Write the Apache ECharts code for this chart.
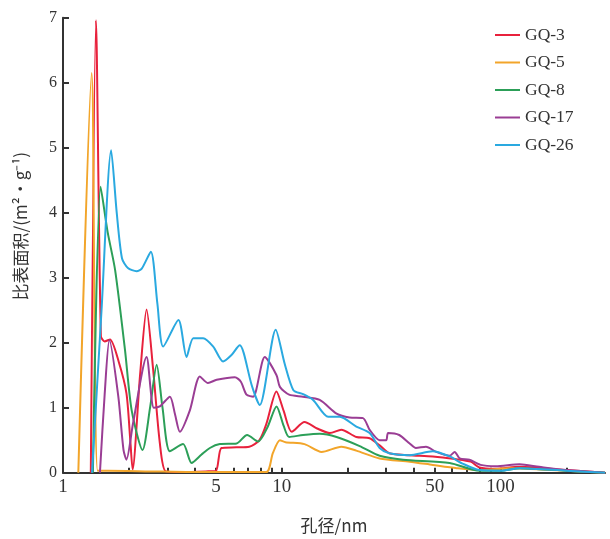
<!DOCTYPE html>
<html>
<head>
<meta charset="utf-8">
<script src="https://cdn.jsdelivr.net/npm/echarts@6/dist/echarts.min.js"></script>
<style>
  html, body { margin: 0; padding: 0; background: #fff; }
  #main { width: 610px; height: 539px; }
</style>
</head>
<body>
<div id="main"></div>
<script>
// 孔径 (nm) 与比表面积 (m²·g⁻¹)
const gq3Size = [1.34, 1.415, 1.49, 1.55, 1.64, 1.8, 1.95, 2.03, 2.08, 2.25, 2.41, 2.58, 2.77, 2.95, 3.5, 4.5, 5.0, 5.3, 6.2, 7.1, 7.9, 8.5, 9.45, 10.2, 11.1, 12.7, 14.5, 16.6, 18.7, 21.9, 25.2, 28, 31, 38, 49, 62, 73, 80, 95, 122, 200, 300]
const gq3Area = [0, 6.96, 2.1, 2.02, 2.05, 1.7, 1.22, 0.5, 0.05, 1.5, 2.51, 1.6, 0.46, 0.02, 0.01, 0.02, 0.03, 0.38, 0.39, 0.4, 0.5, 0.75, 1.25, 0.95, 0.63, 0.78, 0.68, 0.61, 0.66, 0.55, 0.53, 0.42, 0.3, 0.27, 0.25, 0.21, 0.17, 0.08, 0.06, 0.09, 0.04, 0]

const gq5Size = [1.175, 1.352, 1.44, 1.6, 2.5, 4, 6, 8.5, 9.1, 9.8, 10.4, 12.7, 15.2, 18.7, 21.9, 28, 38.4, 49, 63, 80, 110, 200, 300]
const gq5Area = [0, 6.15, 0.03, 0.03, 0.02, 0.01, 0.01, 0.01, 0.3, 0.5, 0.47, 0.44, 0.32, 0.4, 0.34, 0.22, 0.17, 0.12, 0.07, 0.04, 0.07, 0.03, 0]

const gq8Size = [1.37, 1.486, 1.6, 1.73, 1.92, 2.06, 2.31, 2.5, 2.68, 2.85, 3.08, 3.54, 3.87, 4.3, 4.69, 5.21, 6.21, 6.94, 7.79, 8.6, 9.46, 10.2, 10.8, 12.5, 14.9, 17.8, 22.7, 28, 35.8, 58.5, 80, 100, 122, 200, 300]
const gq8Area = [0, 4.4, 3.7, 3.12, 1.89, 0.96, 0.35, 1.0, 1.66, 1.0, 0.33, 0.44, 0.15, 0.28, 0.38, 0.44, 0.45, 0.58, 0.48, 0.7, 1.02, 0.72, 0.55, 0.58, 0.6, 0.55, 0.41, 0.26, 0.2, 0.15, 0.03, 0.03, 0.07, 0.03, 0]

const gq17Size = [1.475, 1.55, 1.63, 1.79, 1.89, 1.95, 2.09, 2.41, 2.6, 2.77, 3.08, 3.25, 3.42, 3.8, 4.22, 4.6, 5.04, 6.1, 6.5, 6.9, 7.4, 8.36, 9.46, 9.8, 10.8, 12.5, 14.9, 17.8, 20.4, 23.5, 25.2, 28, 30, 30.6, 34.4, 38.4, 41, 45.6, 50.8, 58.5, 61.7, 65, 72, 81, 95, 122, 150, 200, 300]
const gq17Area = [0, 1.2, 2.04, 1.17, 0.35, 0.2, 0.76, 1.78, 1.0, 1.02, 1.17, 0.9, 0.63, 0.96, 1.48, 1.38, 1.43, 1.47, 1.4, 1.2, 1.17, 1.78, 1.5, 1.32, 1.2, 1.17, 1.12, 0.91, 0.85, 0.84, 0.66, 0.5, 0.5, 0.61, 0.58, 0.45, 0.38, 0.4, 0.32, 0.26, 0.32, 0.22, 0.2, 0.12, 0.1, 0.13, 0.09, 0.04, 0]

const gq26Size = [1.357, 1.5, 1.66, 1.76, 1.86, 1.98, 2.17, 2.29, 2.52, 2.7, 2.87, 3.37, 3.67, 3.94, 4.37, 4.86, 5.39, 5.89, 6.43, 6.7, 7.28, 7.93, 9.38, 10.3, 11.3, 12.5, 13.9, 16.3, 18.4, 21.9, 25.2, 28, 31, 38.4, 49, 58.5, 67, 80, 100, 122, 200, 300]
const gq26Area = [0, 2.5, 4.96, 4.0, 3.3, 3.15, 3.1, 3.14, 3.4, 2.6, 1.94, 2.35, 1.78, 2.07, 2.07, 1.94, 1.71, 1.81, 1.96, 1.84, 1.35, 1.04, 2.2, 1.68, 1.27, 1.21, 1.12, 0.86, 0.86, 0.71, 0.61, 0.38, 0.3, 0.27, 0.33, 0.25, 0.14, 0.04, 0.03, 0.07, 0.03, 0]

const seriesNames = ['GQ-3', 'GQ-5', 'GQ-8', 'GQ-17', 'GQ-26']
const seriesColors = ['#e8213c', '#f2a52a', '#2c9f58', '#9a3d94', '#2aa9e0']
const xLabelValues = [1, 5, 10, 50, 100]
const xTickValues = [2, 3, 4, 5, 6, 7, 8, 9, 10, 20, 30, 40, 50, 60, 70, 80, 90, 100, 200]

const sizes = [gq3Size, gq5Size, gq8Size, gq17Size, gq26Size]
const areas = [gq3Area, gq5Area, gq8Area, gq17Area, gq26Area]

const serif = 'Liberation Serif, DejaVu Serif, serif'
const cjk = 'Noto Sans CJK SC, sans-serif'

const myChart = echarts.init(document.getElementById('main'))

const option = {
  animation: false,
  color: seriesColors,
  grid: {
    left: 63,
    right: 5,
    top: 17.7,
    bottom: 66.3
  },
  legend: {
    orient: 'vertical',
    left: 490,
    top: 21,
    icon: 'rect',
    itemWidth: 25,
    itemHeight: 2,
    itemGap: 9.5,
    textStyle: {
      fontFamily: serif,
      fontSize: 17.5,
      lineHeight: 17.5,
      color: '#333'
    },
    data: seriesNames
  },
  xAxis: {
    type: 'log',
    logBase: 10,
    min: 1,
    max: 300,
    name: '孔径/nm',
    nameLocation: 'middle',
    nameGap: 44,
    nameTextStyle: {
      fontFamily: cjk,
      fontSize: 17,
      color: '#333'
    },
    axisLine: {
      lineStyle: { color: '#333', width: 2 }
    },
    axisTick: {
      inside: true,
      length: 5,
      lineStyle: { color: '#333', width: 2 },
      customValues: xTickValues
    },
    axisLabel: {
      fontFamily: serif,
      fontSize: 19,
      color: '#333',
      margin: 5,
      customValues: xLabelValues
    },
    splitLine: { show: false },
    minorTick: { show: false }
  },
  yAxis: {
    type: 'value',
    min: 0,
    max: 7,
    interval: 1,
    name: '比表面积/(m²·g⁻¹)',
    nameLocation: 'middle',
    nameGap: 34,
    nameTextStyle: {
      fontFamily: cjk,
      fontSize: 17,
      color: '#333',
      padding: [0, 0, 0, 38]
    },
    axisLine: {
      show: true,
      lineStyle: { color: '#333', width: 2 }
    },
    axisTick: {
      show: true,
      inside: true,
      length: 6,
      lineStyle: { color: '#333', width: 2 }
    },
    axisLabel: {
      fontFamily: serif,
      fontSize: 16,
      color: '#333',
      margin: 6
    },
    splitLine: { show: false }
  },
  series: seriesNames.map((name, i) => ({
    name: name,
    type: 'line',
    data: sizes[i].map((s, j) => [s, areas[i][j]]),
    showSymbol: false,
    symbol: 'none',
    smooth: 0.25,
    lineStyle: { width: 2, color: seriesColors[i] },
    itemStyle: { color: seriesColors[i] }
  }))
}

myChart.setOption(option)
</script>
</body>
</html>
